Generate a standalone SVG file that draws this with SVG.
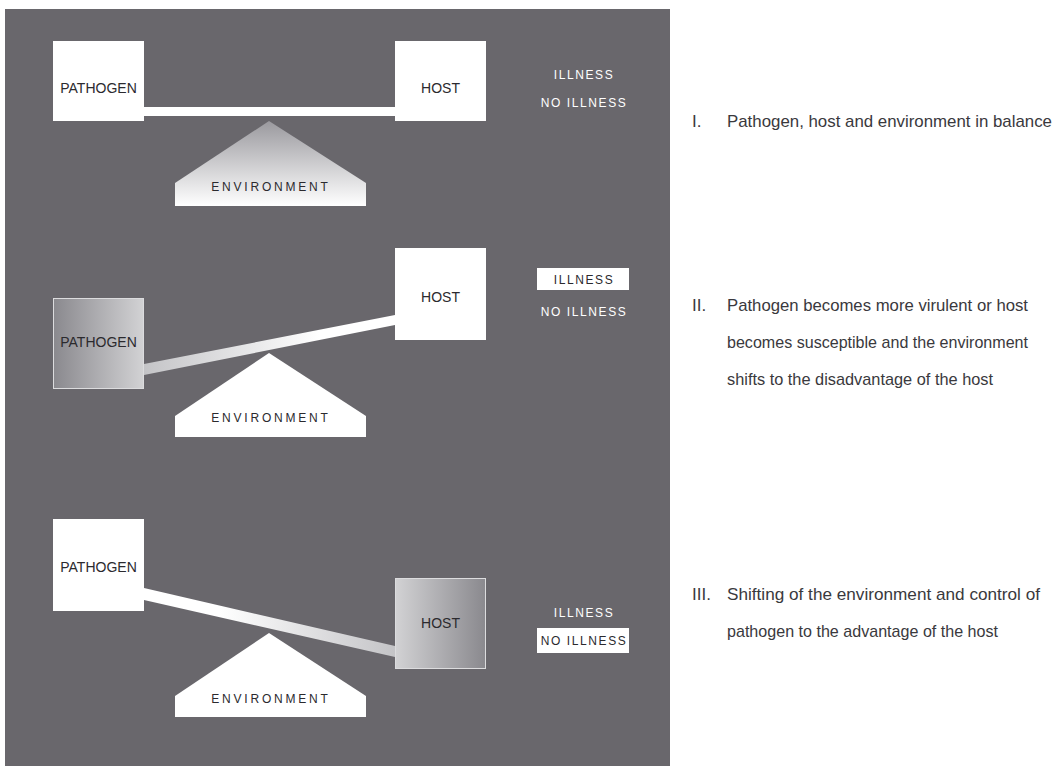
<svg xmlns="http://www.w3.org/2000/svg" width="1062" height="771" viewBox="0 0 1062 771">
  <defs>
    <linearGradient id="envGrad" x1="0" y1="0" x2="0" y2="1">
      <stop offset="0" stop-color="#9a999e"/>
      <stop offset="1" stop-color="#ffffff"/>
    </linearGradient>
    <linearGradient id="darkToLight" x1="0" y1="0" x2="1" y2="0">
      <stop offset="0" stop-color="#8a898e"/>
      <stop offset="1" stop-color="#d2d2d4"/>
    </linearGradient>
    <linearGradient id="lightToDark" x1="0" y1="0" x2="1" y2="0">
      <stop offset="0" stop-color="#d2d2d4"/>
      <stop offset="1" stop-color="#8a898e"/>
    </linearGradient>
    <linearGradient id="beamUp" gradientUnits="userSpaceOnUse" x1="144" y1="0" x2="395" y2="0">
      <stop offset="0" stop-color="#c4c4c7"/>
      <stop offset="0.7" stop-color="#ffffff"/>
      <stop offset="1" stop-color="#ffffff"/>
    </linearGradient>
    <linearGradient id="beamDown" gradientUnits="userSpaceOnUse" x1="144" y1="0" x2="395" y2="0">
      <stop offset="0" stop-color="#ffffff"/>
      <stop offset="0.3" stop-color="#ffffff"/>
      <stop offset="1" stop-color="#c4c4c7"/>
    </linearGradient>
  </defs>
  <style>
    .panel { fill: #69676c; }
    .box { fill: #ffffff; }
    .gbox { stroke: #dcdcde; stroke-width: 1; }
    .lbl { font-family: "Liberation Sans", Arial, sans-serif; font-size: 14px; fill: #2b2a2e; text-anchor: middle; }
    .env { font-family: "Liberation Sans", Arial, sans-serif; font-size: 12px; letter-spacing: 2.8px; fill: #2b2a2e; text-anchor: middle; }
    .ill { font-family: "Liberation Sans", Arial, sans-serif; font-size: 12px; letter-spacing: 1.6px; fill: #ffffff; text-anchor: middle; }
    .ill.dark { fill: #2b2a2e; }
    .desc { font-family: "Liberation Sans", Arial, sans-serif; font-size: 17px; fill: #3a393d; }
  </style>

  <rect class="panel" x="5" y="9" width="665" height="757"/>

  <!-- connectors (beams) -->
  <g id="connectors">
    <polygon points="144,107 395,107 395,116 144,116" fill="#ffffff"/>
    <polygon points="144,364 395,315 395,325 144,375" fill="url(#beamUp)"/>
    <polygon points="144,588 395,646 395,657 144,600" fill="url(#beamDown)"/>
  </g>

  <!-- Panel I -->
  <g id="p1-pathogen">
    <rect class="box" x="53" y="41" width="91" height="80"/>
    <text class="lbl" x="98.5" y="93">PATHOGEN</text>
  </g>
  <g id="p1-host">
    <rect class="box" x="395" y="41" width="91" height="80"/>
    <text class="lbl" x="440.5" y="93">HOST</text>
  </g>
  <g id="p1-environment">
    <polygon points="269,121 366,183 366,206 175,206 175,183" fill="url(#envGrad)"/>
    <text class="env" x="271" y="191">ENVIRONMENT</text>
  </g>
  <g id="p1-outcome">
    <text class="ill" x="584" y="79">ILLNESS</text>
    <text class="ill" x="584" y="107">NO ILLNESS</text>
  </g>

  <!-- Panel II -->
  <g id="p2-pathogen">
    <rect class="gbox" x="53.5" y="298.5" width="90" height="90" fill="url(#darkToLight)"/>
    <text class="lbl" x="98.5" y="347">PATHOGEN</text>
  </g>
  <g id="p2-host">
    <rect class="box" x="395" y="248" width="91" height="92"/>
    <text class="lbl" x="440.5" y="302">HOST</text>
  </g>
  <g id="p2-environment">
    <polygon points="269,353 366,416 366,437 175,437 175,416" fill="#ffffff"/>
    <text class="env" x="271" y="422">ENVIRONMENT</text>
  </g>
  <g id="p2-outcome">
    <rect class="box" x="537" y="268" width="92" height="22"/>
    <text class="ill dark" x="584" y="283.5">ILLNESS</text>
    <text class="ill" x="584" y="316">NO ILLNESS</text>
  </g>

  <!-- Panel III -->
  <g id="p3-pathogen">
    <rect class="box" x="53" y="519" width="91" height="92"/>
    <text class="lbl" x="98.5" y="572">PATHOGEN</text>
  </g>
  <g id="p3-host">
    <rect class="gbox" x="395.5" y="578.5" width="90" height="90" fill="url(#lightToDark)"/>
    <text class="lbl" x="440.5" y="628">HOST</text>
  </g>
  <g id="p3-environment">
    <polygon points="269,633 366,696 366,717 175,717 175,696" fill="#ffffff"/>
    <text class="env" x="271" y="703">ENVIRONMENT</text>
  </g>
  <g id="p3-outcome">
    <text class="ill" x="584" y="617">ILLNESS</text>
    <rect class="box" x="537" y="628" width="92" height="25"/>
    <text class="ill dark" x="584" y="645">NO ILLNESS</text>
  </g>

  <!-- Descriptions -->
  <g id="desc-1">
    <text class="desc" x="692" y="127">I.</text>
    <text class="desc" x="727" y="127" textLength="325" lengthAdjust="spacingAndGlyphs">Pathogen, host and environment in balance</text>
  </g>
  <g id="desc-2">
    <text class="desc" x="692" y="311">II.</text>
    <text class="desc" x="727" y="311" textLength="301" lengthAdjust="spacingAndGlyphs">Pathogen becomes more virulent or host</text>
    <text class="desc" x="727" y="348" textLength="301" lengthAdjust="spacingAndGlyphs">becomes susceptible and the environment</text>
    <text class="desc" x="727" y="385" textLength="266" lengthAdjust="spacingAndGlyphs">shifts to the disadvantage of the host</text>
  </g>
  <g id="desc-3">
    <text class="desc" x="692" y="600">III.</text>
    <text class="desc" x="727" y="600" textLength="313" lengthAdjust="spacingAndGlyphs">Shifting of the environment and control of</text>
    <text class="desc" x="727" y="637" textLength="271" lengthAdjust="spacingAndGlyphs">pathogen to the advantage of the host</text>
  </g>
</svg>
